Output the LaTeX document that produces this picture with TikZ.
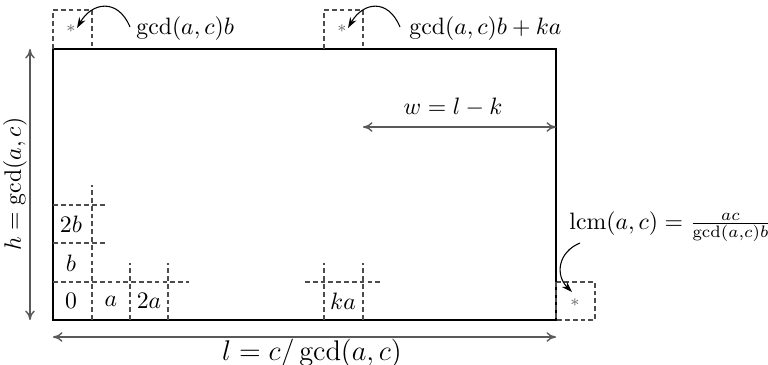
\documentclass[tikz,border=0pt]{standalone}
\usetikzlibrary{arrows.meta}
\begin{document}
\begin{tikzpicture}[x=0.4219pt,y=-0.4219pt,
  grid/.style={draw=black!70,line width=0.45pt,dash pattern=on 2pt off 1.3pt},
  frame/.style={draw=black,line width=0.6pt},
  dim/.style={draw=black!65,line width=0.6pt,{To[length=4pt,width=4pt]}-{To[length=4pt,width=4pt]}},
  pointer/.style={draw=black,line width=0.45pt,-{Stealth[length=4.5pt,width=3pt]}},
  star/.style={inner sep=0pt,text=black!60,font=\scriptsize},
  lbl/.style={inner sep=0pt}]
\useasboundingbox (0,0) rectangle (768,364);
% main rectangle
\draw[frame] (53,49) rectangle (556,320);
% grid near origin
\draw[grid] (53,282) -- (189,282);
\draw[grid] (53,243) -- (107,243);
\draw[grid] (53,205) -- (107,205);
\draw[grid] (92,320) -- (92,185);
\draw[grid] (130,320) -- (130,263);
\draw[grid] (168,320) -- (168,263);
% ka cell
\draw[grid] (305,282) -- (382,282);
\draw[grid] (324,320) -- (324,263);
\draw[grid] (363,320) -- (363,263);
% right cell
\draw[grid] (556,282) rectangle (595,320);
% top cells
\draw[grid] (53,49) -- (53,10) -- (92,10) -- (92,49);
\draw[grid] (324,49) -- (324,10) -- (363,10) -- (363,49);
% cell labels
\node[lbl] (c0) at (71,301) {$0$};
\node[lbl] (ca) at (111,301) {$a$};
\node[lbl] (c2a) at (149,301) {$2a$};
\node[lbl] (cb) at (71,263) {$b$};
\node[lbl] (c2b) at (71,224) {$2b$};
\node[lbl] (cka) at (343,301) {$ka$};
% stars
\node[star] (s1) at (71,29) {$*$};
\node[star] (s2) at (342,29) {$*$};
\node[star] (s3) at (575,303) {$*$};
% top labels
\node[lbl,anchor=west] (g1) at (136,29) {$\gcd(a,c)b$};
\node[lbl,anchor=west] (g2) at (409,29) {$\gcd(a,c)b+ka$};
\node[lbl,anchor=west] (lcm) at (569,227) {$\mathrm{lcm}(a,c)=\frac{ac}{\gcd(a,c)b}$};
% curved pointers
\coordinate (p1s) at (130,27);
\coordinate (p1e) at (77,28);
\coordinate (p2s) at (400,27);
\coordinate (p2e) at (348,28);
\coordinate (p3s) at (580,243);
\coordinate (p3e) at (572,292);
\draw[pointer] (p1s) .. controls (118,-2) and (92,2) .. (p1e);
\draw[pointer] (p2s) .. controls (388,-2) and (363,2) .. (p2e);
\draw[pointer] (p3s) .. controls (558,252) and (555,275) .. (p3e);
% dimension arrows
\coordinate (hT) at (30,49);
\coordinate (hB) at (30,320);
\draw[dim] (hT) -- (hB);
\node[lbl,rotate=90] (hl) at (15,184) {$h=\gcd(a,c)$};
\coordinate (lL) at (53,337);
\coordinate (lR) at (556,337);
\draw[dim] (lL) -- (lR);
\node[lbl,font=\large] (ll) at (312,353) {$l=c/\gcd(a,c)$};
\coordinate (wL) at (363,127);
\coordinate (wR) at (556,127);
\draw[dim] (wL) -- (wR);
\node[lbl] (wl) at (453,107) {$w=l-k$};
\end{tikzpicture}
\end{document}
